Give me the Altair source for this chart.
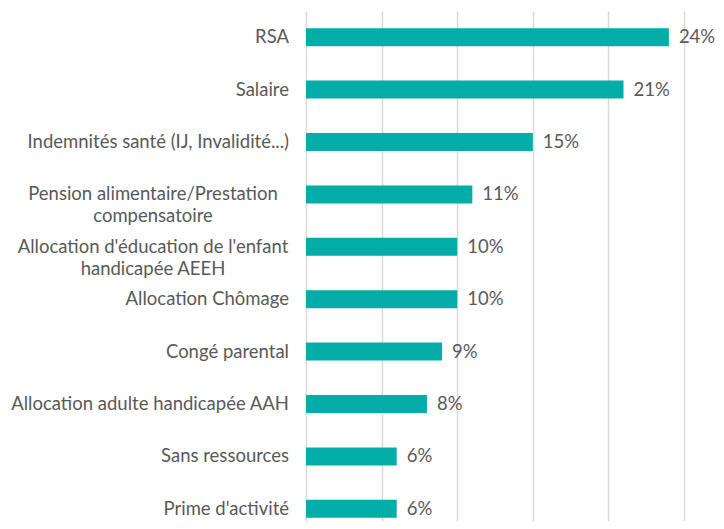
import altair as alt
import pandas as pd

categories = [
    "RSA",
    "Salaire",
    "Indemnités santé (IJ, Invalidité...)",
    "Pension alimentaire/Prestation\ncompensatoire",
    "Allocation d'éducation de l'enfant\nhandicapée AEEH",
    "Allocation Chômage",
    "Congé parental",
    "Allocation adulte handicapée AAH",
    "Sans ressources",
    "Prime d'activité",
]
values = [24, 21, 15, 11, 10, 10, 9, 8, 6, 6]
value_labels = ["24%", "21%", "15%", "11%", "10%", "10%", "9%", "8%", "6%", "6%"]

df = pd.DataFrame({
    "cat": categories,
    "val": values,
    "lab": value_labels,
    "multi": ["\n" in c for c in categories],
})

FONT = "Lato"
TXT = "#595959"
FS = 18.5

y = alt.Y("cat:N", sort=categories,
          scale=alt.Scale(paddingInner=0.656, paddingOuter=0.328),
          axis=None)
x = alt.X("val:Q", scale=alt.Scale(domain=[0, 25], nice=False),
          axis=alt.Axis(values=[0, 5, 10, 15, 20, 25], labels=False, ticks=False,
                        domain=False, title=None, grid=True,
                        gridColor="#D9D9D9", gridWidth=1.5))

bars = alt.Chart(df).mark_bar(color="#00ADA8").encode(x=x, y=y)

vlabels = alt.Chart(df).mark_text(align="left", baseline="middle", dx=10,
                                  font=FONT, fontSize=FS, color=TXT).encode(
    x=alt.X("val:Q"), y=y, text="lab:N")

single = alt.Chart(df).transform_filter("!datum.multi").mark_text(
    align="right", baseline="middle", font=FONT, fontSize=FS, color=TXT).encode(
    x=alt.value(-17), y=y, text="cat:N")

multi = alt.Chart(df).transform_filter("datum.multi").mark_text(
    align="center", baseline="middle", font=FONT, fontSize=FS, color=TXT,
    lineBreak="\n", lineHeight=22).encode(
    x=alt.value(-153), y=y, text="cat:N")

chart = alt.layer(bars, vlabels, single, multi).properties(
    width=378, height=524,
    autosize=alt.AutoSizeParams(type="none"),
    padding={"left": 298, "top": 3, "right": 32, "bottom": -14},
).configure_view(stroke=None)

chart.save("out.html", embed_options={"renderer": "svg", "actions": False})
